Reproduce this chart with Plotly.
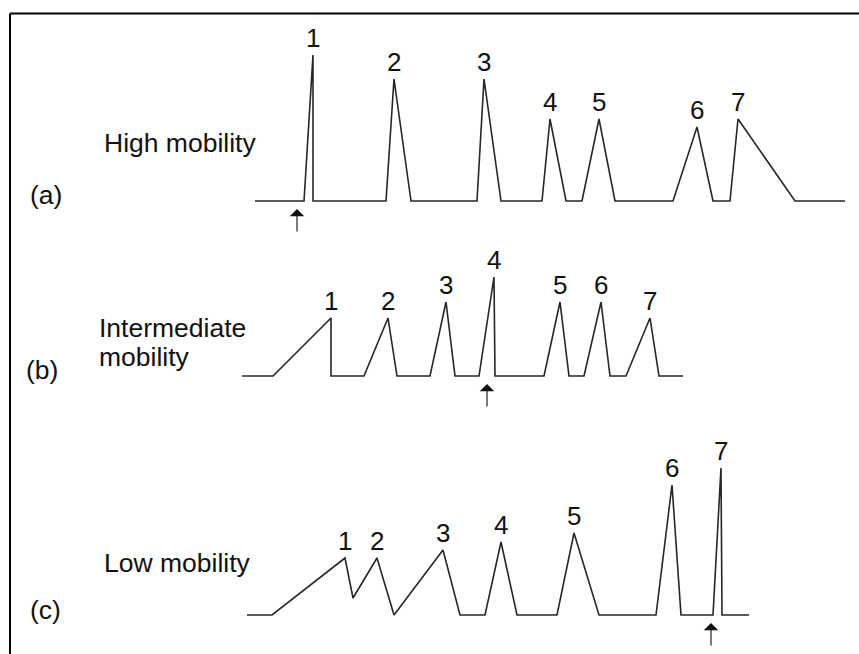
import plotly.graph_objects as go

W, H = 859, 654

# ---- data: time (arbitrary units) and signal above baseline ----
a_t = [255, 304, 313, 313, 386, 394, 411, 477, 484, 501, 542, 550, 566, 582, 599, 615, 673, 697, 713, 730, 738, 795, 845]
a_s = [0, 0, 146, 0, 0, 122, 0, 0, 122, 0, 0, 82, 0, 0, 82, 0, 0, 74, 0, 0, 82, 0, 0]

b_t = [242, 273, 331, 331, 364, 388, 397, 430, 446, 455, 479, 494, 495, 544, 560, 569, 584, 601, 610, 626, 650, 659, 683]
b_s = [0, 0, 58, 0, 0, 58, 0, 0, 74, 0, 0, 99, 0, 0, 74, 0, 0, 74, 0, 0, 58, 0, 0]

c_t = [247, 272, 345, 353, 377, 394, 443, 460, 485, 501, 517, 557, 574, 599, 656, 672, 681, 713, 721, 722, 749]
c_s = [0, 0, 57, 17, 57, 0, 65, 0, 0, 73, 0, 0, 82, 0, 0, 130, 0, 0, 147, 0, 0]

peak_labels = ["1", "2", "3", "4", "5", "6", "7"]
injection_t = [297, 487, 711]          # arrow (injection marker) times
panel_names = [["High mobility"], ["Intermediate", "mobility"], ["Low mobility"]]
panel_tags = ["(a)", "(b)", "(c)"]

# ---- layout helpers ----
baselines_px = [201, 376, 615]   # pixel row of each baseline
axes = ["y", "y2", "y3"]

fig = go.Figure()
line_style = dict(color="#262626", width=1.6)

series = [(a_t, a_s), (b_t, b_s), (c_t, c_s)]
annotations = []
for k, ((t, s), ax) in enumerate(zip(series, axes)):
    fig.add_trace(go.Scatter(x=t, y=s, mode="lines", line=line_style,
                             yaxis=ax, hoverinfo="skip", showlegend=False))
    # peak labels at local maxima
    n = 0
    for i in range(1, len(s) - 1):
        if s[i] > s[i - 1] and s[i] > s[i + 1]:
            annotations.append(dict(x=t[i], y=s[i], xref="x", yref=ax,
                                    text=peak_labels[n], showarrow=False,
                                    yshift=17, yanchor="middle", xanchor="center",
                                    font=dict(size=26, color="#111", family="Liberation Sans, Arial")))
            n += 1
    # injection arrow
    annotations.append(dict(x=injection_t[k], y=-8, xref="x", yref=ax,
                            ax=injection_t[k], ay=-32, axref="x", ayref=ax,
                            text="", showarrow=True, arrowhead=1, arrowsize=2.2,
                            arrowwidth=1.1, arrowcolor="#111"))

# panel text
def py(p):
    return 1 - p / H

label_font = dict(size=26.5, color="#111", family="Liberation Sans, Arial")
text_pos = [
    [(102, 143)],
    [(97, 328), (97, 357)],
    [(102, 563)],
]
tag_pos = [(28, 195), (24, 370), (28, 610)]
for names, poss in zip(panel_names, text_pos):
    for nm, (x, yv) in zip(names, poss):
        annotations.append(dict(x=x, y=py(yv), xref="x", yref="paper", text=nm,
                                showarrow=False, xanchor="left", yanchor="middle",
                                font=label_font))
for tag, (x, yv) in zip(panel_tags, tag_pos):
    annotations.append(dict(x=x, y=py(yv), xref="x", yref="paper", text=tag,
                            showarrow=False, xanchor="left", yanchor="middle",
                            font=label_font))

# frame
shapes = [
    dict(type="line", xref="paper", yref="paper", x0=10 / W, x1=1.01, y0=py(13.5), y1=py(13.5),
         line=dict(color="black", width=2)),
    dict(type="line", xref="paper", yref="paper", x0=10 / W, x1=10 / W, y0=py(13.5), y1=-0.01,
         line=dict(color="black", width=2)),
]

hidden = dict(visible=False, showgrid=False, zeroline=False, fixedrange=True)
layout_axes = {}
for ax, b in zip(axes, baselines_px):
    key = "yaxis" if ax == "y" else "yaxis" + ax[1:]
    d = dict(hidden, range=[-(H - b), b], domain=[0, 1])
    if ax != "y":
        d["overlaying"] = "y"
    layout_axes[key] = d

fig.update_layout(
    width=W, height=H,
    margin=dict(l=0, r=0, t=0, b=0),
    paper_bgcolor="white", plot_bgcolor="white",
    xaxis=dict(hidden, range=[0, W], domain=[0, 1]),
    annotations=annotations,
    shapes=shapes,
    **layout_axes,
)

fig.write_html("out.html", config={"displayModeBar": False})
